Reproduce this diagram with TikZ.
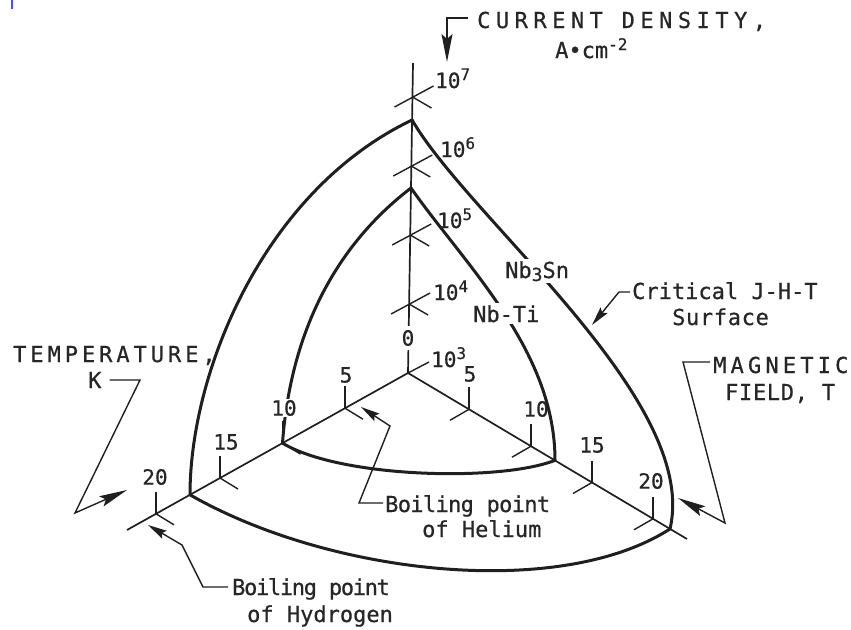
\documentclass[tikz,border=0pt]{standalone}
\usepackage{fontspec}
\newfontfamily\lf[FakeBold=0.6]{DejaVu Sans Mono}
\usetikzlibrary{arrows.meta,calc}
\newcommand{\mysup}[2][8pt]{\raisebox{#1}{\fontsize{16}{16}\selectfont #2}}
\newcommand{\mysub}[1]{\raisebox{-3pt}{\fontsize{18}{18}\selectfont #1}}
\begin{document}
\begin{tikzpicture}[x=1pt,y=-1pt,
  ink/.style={draw=black!88},
  axis/.style={ink, line width=1.7pt},
  crv/.style={ink, line width=3pt, line cap=round},
  tick/.style={ink, line width=1.4pt},
  lead/.style={ink, line width=1.4pt, line join=miter},
  arr/.style={lead, -{Stealth[length=19pt,width=9pt,inset=3pt]}},
  bigarr/.style={lead, -{Stealth[length=28pt,width=11pt,inset=5pt]}},
  lab/.style={anchor=base west, inner sep=0pt, text=black!85, font=\lf\fontsize{22}{26}\selectfont},
  num/.style={inner sep=1pt, text=black!85, font=\lf\fontsize{21}{24}\selectfont},
  pow/.style={anchor=base west, inner sep=0pt, text=black!85, font=\lf\fontsize{21}{24}\selectfont},
]
\useasboundingbox (0,0) rectangle (851,629);
% blue mark
\draw[blue!70!white, line width=1.2pt] (12,0) -- (12,9);
% coordinates
\coordinate (O) at (408,373);
\coordinate (Tend) at (127,530);
\coordinate (Hend) at (687,539);
\coordinate (Jtop) at (413,63);
\coordinate (T5) at (345,408.2);
\coordinate (T10) at (282.5,443.1);
\coordinate (T15) at (220,478);
\coordinate (T20) at (156,513.8);
\coordinate (H5) at (469,409.3);
\coordinate (H10) at (531,446.2);
\coordinate (H15) at (592,482.5);
\coordinate (H20) at (653,518.8);
\coordinate (J4) at (409.1,304);
\coordinate (J5) at (410.2,235);
\coordinate (J6) at (411.3,166);
\coordinate (J7) at (412.5,97);
\coordinate (A) at (412.1,120);
\coordinate (B) at (190,494.8);
\coordinate (C) at (670,528.9);
\coordinate (D) at (411,188);
\coordinate (E) at (282.5,443.1);
\coordinate (F) at (555,460.3);
% axes
\draw[axis] (Jtop) -- (O);
\draw[axis] (Tend) -- (O) -- (Hend);
% surfaces
\draw[crv] (A) .. controls (265,190) and (190,370) .. (B);
\draw[crv] (A) .. controls (470,220) and (700,400) .. (C);
\draw[crv] (B) .. controls (330,575) and (560,600) .. (C);
\draw[crv] (D) .. controls (330,250) and (290,340) .. (E);
\draw[crv] (D) .. controls (465,265) and (555,350) .. (F);
\draw[crv] (E) .. controls (340,478) and (500,482) .. (F);
% ticks
\foreach \p in {J4,J5,J6,J7} {
  \draw[tick] ($(\p)+(-18,10)$) -- ($(\p)+(21,-11)$);
  \draw[tick] (\p) -- ++(19,11);
}
\draw[tick] (O) -- ++(21,-11);
\foreach \p in {T5,T10,T15,T20} {
  \draw[tick] (\p) -- ++(0,-22);
  \draw[tick] (\p) -- ++(18,11);
}
\foreach \p in {H5,H10,H15,H20} {
  \draw[tick] (\p) -- ++(0,-22);
  \draw[tick] (\p) -- ++(-19,11);
}
% power labels
\node[pow] (l7) at (435,88) {10\mysup{7}};
\node[pow] (l6) at (440,157) {10\mysup{6}};
\node[pow] (l5) at (437,228) {10\mysup{5}};
\node[pow] (l4) at (433,300) {10\mysup{4}};
\node[pow] (l3) at (431,367) {10\mysup{3}};
% numbers
\node[num] (t5) at (346,375) {5};
\node[num, fill=white] (t10) at (284,408) {10};
\node[num] (t15) at (226,442) {15};
\node[num] (t20) at (155,477) {20};
\node[num] (h5) at (470,374) {5};
\node[num] (h10) at (536,409) {10};
\node[num] (h15) at (592,445) {15};
\node[num] (h20) at (651,481) {20};
\node[num, fill=white, inner sep=4pt] (zero) at (408,338) {0};
% material labels
\node[lab, fill=white, inner sep=2pt] (nbsn) at (503,278) {Nb\mysub{3}Sn};
\node[lab, fill=white, inner sep=2pt] (nbti) at (471,322) {Nb-Ti};
% text labels
\node[lab] (cd1) at (477,28) {\addfontfeature{LetterSpace=25}CURRENT DENSITY,};
\node[lab] (cd2) at (555,58) {A•cm\mysup{-2}};
\node[lab] (tmp1) at (13,362) {\addfontfeature{LetterSpace=18}TEMPERATURE,};
\node[lab] (tmp2) at (88,388) {K};
\node[lab] (mag1) at (713,373) {\addfontfeature{LetterSpace=19}MAGNETIC};
\node[lab] (mag2) at (725,400) {\addfontfeature{LetterSpace=3}FIELD, T};
\node[lab] (crit1) at (632,299) {Critical J-H-T};
\node[lab] (crit2) at (672,325) {\addfontfeature{LetterSpace=3}Surface};
\node[lab] (bh1) at (385,512) {\addfontfeature{LetterSpace=-3}Boiling point};
\node[lab] (bh2) at (422,537) {of Helium};
\node[lab] (by1) at (232,595) {\addfontfeature{LetterSpace=-6}Boiling point};
\node[lab] (by2) at (247,622) {of Hydrogen};
% leaders
\coordinate (cdtip) at (447,62);
\coordinate (tmptip) at (127,490);
\coordinate (magtip) at (678,498);
\coordinate (crittip) at (592,325);
\coordinate (bhtip) at (361,407);
\coordinate (bytip) at (148,525);
\draw[bigarr] ($(cd1.base west)+(-9,-10)$) -- (447,18) -- (cdtip);
\draw[bigarr] ($(tmp2.base east)+(8,-8)$) -- (140,380) -- (75,513) -- (tmptip);
\draw[bigarr] ($(mag1.base west)+(-3,-11)$) -- (683,362) -- (725,523) -- (magtip);
\draw[arr] ($(crit1.base west)+(-2,-7)$) -- (619,292) -- (crittip);
\draw[arr] ($(bh1.base west)+(-2,-9)$) -- (359,503) -- (390,426) -- (bhtip);
\draw[arr] ($(by1.base west)+(-4,-8)$) -- (203,587) -- (182,545) -- (bytip);
\end{tikzpicture}
\end{document}
